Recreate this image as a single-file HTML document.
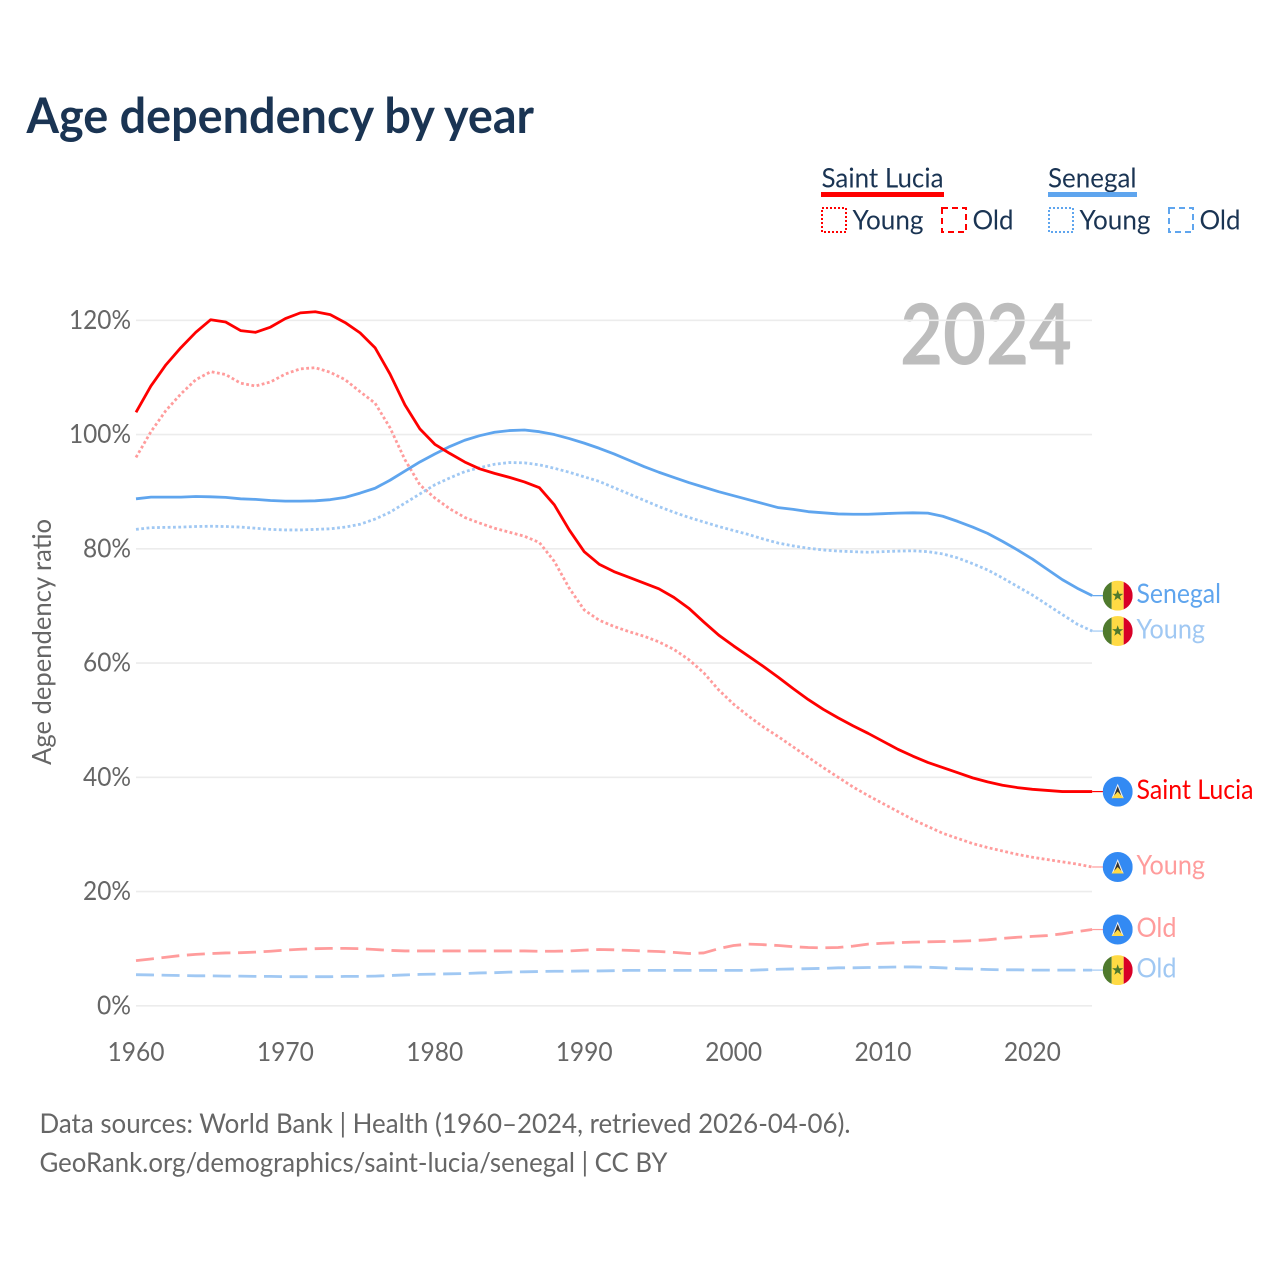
<!DOCTYPE html>
<html lang="en">
<head>
<meta charset="utf-8">
<title>Age dependency by year</title>
<style>
html,body{margin:0;padding:0;background:#fff;}
svg{display:block;font-family:"Lato","Carlito","Liberation Sans",sans-serif;}
</style>
</head>
<body>
<svg id="chart" xmlns="http://www.w3.org/2000/svg" width="1280" height="1280" viewBox="0 0 1280 1280">
  <defs><clipPath id="flag-clip"><circle cx="0" cy="0" r="15"/></clipPath></defs>
  <rect x="0" y="0" width="1280" height="1280" fill="#fff"/>
  <text x="26.5" y="133" font-size="48.5" font-weight="700" fill="#1a3453" textLength="507.5" lengthAdjust="spacingAndGlyphs">Age dependency by year</text>

  <g font-size="27.2" fill="#1a3453">
    <text x="821.5" y="187.3" textLength="122" lengthAdjust="spacingAndGlyphs">Saint Lucia</text>
    <rect x="821" y="192" width="123" height="5" fill="#ff0000"/>
    <rect x="822" y="208" width="24" height="24" fill="none" stroke="#ff0000" stroke-width="2" stroke-dasharray="2 2"/>
    <text x="852.5" y="229.3" textLength="71" lengthAdjust="spacingAndGlyphs">Young</text>
    <rect x="942" y="208" width="24" height="24" fill="none" stroke="#ff0000" stroke-width="2" stroke-dasharray="6 4"/>
    <text x="972.5" y="229.3" textLength="41" lengthAdjust="spacingAndGlyphs">Old</text>

    <text x="1048" y="187.3" textLength="88.5" lengthAdjust="spacingAndGlyphs">Senegal</text>
    <rect x="1048" y="192" width="89" height="5" fill="#5fa5ee"/>
    <rect x="1049" y="208" width="24" height="24" fill="none" stroke="#5fa5ee" stroke-width="2" stroke-dasharray="2 2"/>
    <text x="1079.5" y="229.3" textLength="71" lengthAdjust="spacingAndGlyphs">Young</text>
    <rect x="1169" y="208" width="24" height="24" fill="none" stroke="#5fa5ee" stroke-width="2" stroke-dasharray="6 4"/>
    <text x="1199.5" y="229.3" textLength="41" lengthAdjust="spacingAndGlyphs">Old</text>
  </g>

  <text transform="translate(51 642) rotate(-90)" text-anchor="middle" font-size="26.2" fill="#666" textLength="246" lengthAdjust="spacingAndGlyphs">Age dependency ratio</text>
  <text x="900" y="364.5" font-size="84" font-weight="700" fill="#bdbdbd" textLength="172" lengthAdjust="spacingAndGlyphs">2024</text>

  <g id="grid"></g>
  <g id="x-ticks"></g>
  <g id="y-ticks"></g>
  <g id="series"></g>
  <g id="end-labels"></g>

  <text x="39.5" y="1133.2" font-size="27.2" fill="#666" textLength="811" lengthAdjust="spacingAndGlyphs">Data sources: World Bank | Health (1960–2024, retrieved 2026-04-06).</text>
  <text x="39.5" y="1172.2" font-size="27.2" fill="#666" textLength="628" lengthAdjust="spacingAndGlyphs">GeoRank.org/demographics/saint-lucia/senegal | CC BY</text>
</svg>

<script>
const years = [1960,1961,1962,1963,1964,1965,1966,1967,1968,1969,1970,1971,1972,1973,1974,1975,1976,1977,1978,1979,1980,1981,1982,1983,1984,1985,1986,1987,1988,1989,1990,1991,1992,1993,1994,1995,1996,1997,1998,1999,2000,2001,2002,2003,2004,2005,2006,2007,2008,2009,2010,2011,2012,2013,2014,2015,2016,2017,2018,2019,2020,2021,2022,2023,2024];
const xTickLabels = [1960,1970,1980,1990,2000,2010,2020];
const yTickLabels = [0,20,40,60,80,100,120];

const saintLuciaTotal = [103.9,108.5,112.2,115.2,117.9,120.1,119.7,118.2,117.9,118.8,120.3,121.3,121.5,121.0,119.6,117.8,115.2,110.6,105.2,101.0,98.3,96.7,95.2,94.0,93.2,92.5,91.7,90.7,87.7,83.3,79.5,77.3,76.0,75.0,74.0,73.0,71.5,69.6,67.2,64.9,63.0,61.2,59.4,57.5,55.5,53.6,51.9,50.4,49.0,47.7,46.3,44.9,43.7,42.6,41.7,40.8,39.9,39.2,38.6,38.2,37.9,37.7,37.5,37.5,37.5];
const saintLuciaYoung = [96.0,100.5,104.2,107.1,109.6,111.0,110.5,109.0,108.5,109.2,110.6,111.5,111.7,110.9,109.6,107.5,105.5,101.2,95.6,91.2,88.9,87.0,85.5,84.5,83.6,82.9,82.2,81.1,77.8,73.1,69.3,67.5,66.4,65.5,64.7,63.7,62.4,60.6,58.3,55.3,52.8,50.7,48.8,47.1,45.3,43.5,41.7,40.0,38.3,36.8,35.4,34.0,32.6,31.4,30.2,29.3,28.4,27.7,27.1,26.5,26.0,25.6,25.2,24.8,24.3];
const saintLuciaOld = [7.9,8.2,8.5,8.8,9.0,9.15,9.25,9.3,9.4,9.55,9.75,9.9,10.0,10.05,10.05,10.0,9.85,9.7,9.6,9.6,9.6,9.6,9.6,9.6,9.6,9.6,9.6,9.55,9.55,9.6,9.75,9.85,9.8,9.7,9.6,9.5,9.35,9.15,9.25,10.0,10.55,10.8,10.7,10.55,10.35,10.2,10.15,10.2,10.45,10.8,10.95,11.05,11.15,11.2,11.25,11.3,11.4,11.55,11.8,12.0,12.15,12.3,12.6,13.0,13.35];
const senegalTotal = [88.75,89.05,89.05,89.05,89.15,89.1,89.0,88.75,88.65,88.45,88.35,88.35,88.4,88.6,89.0,89.75,90.6,92.0,93.6,95.2,96.6,97.9,99.0,99.8,100.4,100.7,100.8,100.5,100.0,99.3,98.5,97.6,96.6,95.5,94.4,93.4,92.5,91.6,90.8,90.0,89.3,88.6,87.9,87.2,86.9,86.5,86.3,86.1,86.05,86.05,86.15,86.25,86.3,86.25,85.7,84.8,83.8,82.7,81.3,79.8,78.2,76.4,74.6,73.1,71.8];
const senegalYoung = [83.4,83.7,83.75,83.8,83.9,83.95,83.9,83.8,83.6,83.4,83.3,83.3,83.4,83.5,83.8,84.3,85.2,86.4,88.0,89.6,91.2,92.4,93.5,94.2,94.8,95.1,95.05,94.7,94.1,93.4,92.6,91.8,90.7,89.6,88.5,87.4,86.4,85.5,84.7,83.9,83.2,82.5,81.7,81.0,80.5,80.1,79.8,79.6,79.5,79.4,79.5,79.6,79.65,79.5,79.1,78.4,77.4,76.3,74.9,73.4,71.9,70.2,68.5,66.8,65.6];
const senegalOld = [5.45,5.4,5.35,5.3,5.25,5.25,5.2,5.2,5.15,5.15,5.1,5.1,5.1,5.1,5.15,5.15,5.2,5.3,5.4,5.5,5.55,5.6,5.65,5.75,5.8,5.9,5.95,6.0,6.05,6.05,6.1,6.1,6.15,6.2,6.2,6.2,6.2,6.2,6.2,6.2,6.2,6.2,6.3,6.4,6.45,6.5,6.55,6.65,6.65,6.7,6.75,6.8,6.8,6.75,6.65,6.5,6.45,6.35,6.3,6.3,6.25,6.25,6.25,6.25,6.25];

const xScale = function (year) { return 136 + (year - 1960) * 14.94; };
const yScale = function (value) { return 1005.8 - value * 5.7125; };
const NS = 'http://www.w3.org/2000/svg';

function make(tag, parent, attrs, text) {
  const el = document.createElementNS(NS, tag);
  for (const k in attrs) el.setAttribute(k, attrs[k]);
  if (text !== undefined) el.textContent = text;
  parent.appendChild(el);
  return el;
}

const grid = document.getElementById('grid');
const yTicks = document.getElementById('y-ticks');
yTickLabels.forEach(function (v) {
  const line = make('line', grid, {x1: 136, x2: 1092, y1: yScale(v), y2: yScale(v), stroke: '#ececec', 'stroke-width': 1.6});
  
  
  const label = v + '%';
  const t = make('text', yTicks, {x: 131, y: yScale(v) + 8.6, 'text-anchor': 'end', 'font-size': 26.2, fill: '#666', textLength: 20 + 14 * String(v).length, lengthAdjust: 'spacingAndGlyphs'}, label);
  
  
});

const xTicks = document.getElementById('x-ticks');
xTickLabels.forEach(function (yr) {
  const t = make('text', xTicks, {x: xScale(yr), y: 1061.2, 'text-anchor': 'middle', 'font-size': 26.2, fill: '#666', textLength: 57, lengthAdjust: 'spacingAndGlyphs'}, String(yr));
  
  
});

const seriesGroup = document.getElementById('series');
const endGroup = document.getElementById('end-labels');

function starPoints(r) {
  const pts = [];
  for (let i = 0; i < 10; i++) {
    const rad = i % 2 ? r * 0.4 : r;
    const a = -Math.PI / 2 + i * Math.PI / 5;
    pts.push((rad * Math.cos(a)).toFixed(2) + ',' + (rad * Math.sin(a)).toFixed(2));
  }
  return pts.join(' ');
}

function drawFlag(country, cy) {
  const g = make('g', endGroup, {transform: 'translate(1117.7 ' + cy + ')'});
  
  
  const c = make('g', g, {'clip-path': 'url(#flag-clip)'});
  if (country === 'senegal') {
    make('rect', c, {x: -15, y: -15, width: 9, height: 30, fill: '#4f7a2d'});
    make('rect', c, {x: -6, y: -15, width: 12, height: 30, fill: '#ffda44'});
    make('rect', c, {x: 6, y: -15, width: 9, height: 30, fill: '#d80027'});
    make('polygon', c, {points: starPoints(5.8), fill: '#4f7a2d'});
  } else {
    make('rect', c, {x: -15, y: -15, width: 30, height: 30, fill: '#338af3'});
    make('polygon', c, {points: '0,-8 6,6.5 -6,6.5', fill: '#f0f0f0'});
    make('polygon', c, {points: '0,-5.5 4.6,6.5 -4.6,6.5', fill: '#333'});
    make('polygon', c, {points: '0,0 6,6.5 -6,6.5', fill: '#ffda44'});
  }
}

function drawSeries(name, values, color, width, dash, country, label, labelWidth) {
  const d = values.map(function (v, i) {
    return (i ? 'L' : 'M') + xScale(years[i]).toFixed(2) + ' ' + yScale(v).toFixed(2);
  }).join(' ');
  const path = make('path', seriesGroup, {d: d, fill: 'none', stroke: color, 'stroke-width': width, 'stroke-linejoin': 'round'});
  
  
  if (dash) path.setAttribute('stroke-dasharray', dash);

  const endY = yScale(values[values.length - 1]);
  const conn = make('line', seriesGroup, {x1: xScale(years[years.length - 1]), x2: 1103, y1: endY, y2: endY, stroke: color, 'stroke-width': 1.2});
  
  

  drawFlag(country, endY);
  const t = make('text', endGroup, {x: 1136.5, y: endY + 7.4, 'font-size': 27.2, fill: color, textLength: labelWidth, lengthAdjust: 'spacingAndGlyphs'}, label);
  
  
}

drawSeries('saint-lucia-old', saintLuciaOld, '#ff9c9c', 2.8, '18 7.6', 'saint-lucia', 'Old', 40);
drawSeries('senegal-old', senegalOld, '#a0c8f3', 2.8, '18 7.6', 'senegal', 'Old', 40);
drawSeries('saint-lucia-young', saintLuciaYoung, '#ff9c9c', 2.8, '2.8 2.5', 'saint-lucia', 'Young', 68.5);
drawSeries('senegal-young', senegalYoung, '#a0c8f3', 2.8, '2.8 2.5', 'senegal', 'Young', 68.5);
drawSeries('senegal-total', senegalTotal, '#5fa5ee', 2.8, null, 'senegal', 'Senegal', 84.5);
drawSeries('saint-lucia-total', saintLuciaTotal, '#ff0000', 2.8, null, 'saint-lucia', 'Saint Lucia', 117);
</script>
</body>
</html>
